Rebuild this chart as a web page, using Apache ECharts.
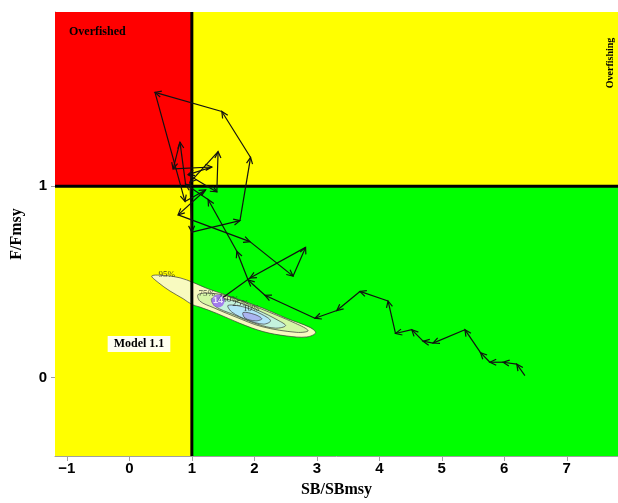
<!DOCTYPE html>
<html>
<head>
<meta charset="utf-8">
<script src="https://cdn.jsdelivr.net/npm/echarts@6/dist/echarts.min.js"></script>
<style>
  html, body { margin: 0; padding: 0; background: #fff; }
  #main { width: 618px; height: 503px; }
</style>
</head>
<body>
<div id="main"></div>
<script>
// axis ticks
const xTicks = [-1, 0, 1, 2, 3, 4, 5, 6, 7];
const yTicks = [0, 1];

// stock trajectory (SB/SBmsy, F/Fmsy) in time order
const trajSB = [6.33, 6.20, 5.98, 5.77, 5.62, 5.37, 4.86, 4.70, 4.52, 4.26, 4.14, 3.69, 3.32, 2.97, 2.17, 1.90, 1.72, 1.26, 0.90, 0.81,
  0.70, 1.32, 0.94, 1.40, 1.42, 0.97, 1.00, 1.77, 1.94, 1.48, 0.41, 0.89, 1.22, 0.78, 1.93, 2.62, 2.82, 1.93, 1.42];
const trajF = [0.01, 0.07, 0.08, 0.08, 0.13, 0.25, 0.18, 0.19, 0.25, 0.23, 0.40, 0.45, 0.35, 0.31, 0.43, 0.51, 0.66, 0.93, 1.01, 1.23,
  1.09, 1.10, 1.06, 0.97, 1.18, 1.02, 0.76, 0.82, 1.15, 1.39, 1.49, 0.92, 0.98, 0.85, 0.71, 0.53, 0.68, 0.52, 0.40];

// final year point
const finalPoint = [1.42, 0.40];
const finalLabel = "14";

// uncertainty contours around the final year
const contour95 = [[0.36, 0.531], [0.57, 0.533], [0.81, 0.521], [1.02, 0.497], [1.24, 0.466], [1.61, 0.424], [2.14, 0.362], [2.52, 0.309],
  [2.89, 0.262], [2.98, 0.234], [2.84, 0.212], [2.52, 0.217], [2.14, 0.240], [1.77, 0.283], [1.40, 0.335], [1.13, 0.368],
  [1.00, 0.382], [0.86, 0.412], [0.65, 0.452], [0.46, 0.497]];
const contour75 = [[1.10, 0.434], [1.32, 0.440], [1.58, 0.424], [2.09, 0.361], [2.66, 0.283], [2.86, 0.245], [2.68, 0.236],
  [2.12, 0.266], [1.69, 0.318], [1.34, 0.366], [1.13, 0.399]];
const contour50 = [[1.32, 0.413], [1.64, 0.403], [2.06, 0.351], [2.38, 0.299], [2.50, 0.271], [2.34, 0.258], [2.06, 0.278],
  [1.66, 0.330], [1.37, 0.373]];
const contour25 = [[1.58, 0.377], [1.85, 0.367], [2.12, 0.330], [2.26, 0.297], [2.15, 0.279], [1.90, 0.300], [1.64, 0.342]];
const contour10 = [[1.82, 0.340], [2.01, 0.329], [2.12, 0.307], [2.02, 0.296], [1.85, 0.311]];
const contourNames = ["95%", "75%", "50%", "25%", "10%"];
const contourLabelSB = [0.60, 1.24, 1.62, 1.78, 1.95];
const contourLabelF = [0.537, 0.44, 0.405, 0.385, 0.36];

const xMin = -1.19, xMax = 7.82, yMin = -0.41, yMax = 1.91;

const contours = [contour95, contour75, contour50, contour25, contour10];
const contourColors = ["#f8fac0", "#d6f6a6", "#c4f2dc", "#b4e4fa", "#aab4f0"];

const segments = [];
for (let i = 1; i < trajSB.length; i++) {
  segments.push([trajSB[i - 1], trajF[i - 1], trajSB[i], trajF[i]]);
}

const serif = "'Liberation Serif', 'Times New Roman', serif";
const narrow = "'Liberation Sans Narrow', 'Arial Narrow', 'Liberation Sans', sans-serif";

const myChart = echarts.init(document.getElementById("main"));

const option = {
  animation: false,
  grid: { left: 55, right: 0, top: 12, bottom: 45 },
  xAxis: {
    type: "value",
    min: xMin,
    max: xMax,
    name: "SB/SBmsy",
    nameLocation: "middle",
    nameGap: 26,
    nameTextStyle: { fontFamily: serif, fontWeight: "bold", fontSize: 16, color: "#000" },
    axisLine: { onZero: false, lineStyle: { color: "#a0a0a0" } },
    axisTick: { customValues: xTicks, length: 5, lineStyle: { color: "#a0a0a0" } },
    axisLabel: {
      customValues: xTicks, margin: 5, fontFamily: narrow, fontWeight: "bold", fontSize: 15, color: "#000",
      formatter: (v) => String(v).replace("-", "\u2212"),
    },
    splitLine: { show: false },
  },
  yAxis: {
    type: "value",
    min: yMin,
    max: yMax,
    name: "F/Fmsy",
    nameLocation: "middle",
    nameGap: 30,
    nameTextStyle: { fontFamily: serif, fontWeight: "bold", fontSize: 16, color: "#000" },
    axisLine: { onZero: false, lineStyle: { color: "#a0a0a0" } },
    axisTick: { customValues: yTicks, length: 4, lineStyle: { color: "#a0a0a0" } },
    axisLabel: { customValues: yTicks, margin: 8, fontFamily: narrow, fontWeight: "bold", fontSize: 15, color: "#000" },
    splitLine: { show: false },
  },
  graphic: [
    { type: "text", left: 69, top: 26, z: 50,
      style: { text: "Overfished", font: "bold 12px " + serif, fill: "#000" } },
    { type: "text", x: 610, y: 63, rotation: Math.PI / 2, z: 50,
      style: { text: "Overfishing", font: "bold 10px " + serif, fill: "#000", align: "center", verticalAlign: "middle" } },
    { type: "text", x: 139, y: 344, z: 50,
      style: { text: "Model 1.1", font: "bold 12px " + serif, fill: "#000", align: "center", verticalAlign: "middle",
        backgroundColor: "#fffff0", padding: [2, 6] } },
  ],
  series: [
    {
      // Kobe quadrants
      type: "custom",
      z: 1,
      silent: true,
      data: [
        [xMin, 1, 1, yMax, 0],
        [1, 1, xMax, yMax, 1],
        [xMin, yMin, 1, 1, 1],
        [1, yMin, xMax, 1, 2],
      ],
      encode: { x: [0, 2], y: [1, 3] },
      renderItem: function (params, api) {
        const cols = ["#ff0000", "#ffff00", "#00ff00"];
        const p1 = api.coord([api.value(0), api.value(3)]);
        const p2 = api.coord([api.value(2), api.value(1)]);
        return {
          type: "rect",
          shape: { x: p1[0], y: p1[1], width: p2[0] - p1[0], height: p2[1] - p1[1] },
          style: { fill: cols[api.value(4)] },
        };
      },
    },
    {
      // density contours
      type: "custom",
      z: 2,
      silent: true,
      data: contours.map((c) => c[0]),
      renderItem: function (params, api) {
        const pts = contours[params.dataIndex].map((p) => api.coord(p));
        return {
          type: "polygon",
          shape: { points: pts, smooth: 0.35 },
          style: { fill: contourColors[params.dataIndex], stroke: "#3a3a3a", lineWidth: 0.7 },
        };
      },
    },
    {
      type: "scatter",
      z: 3,
      silent: true,
      symbolSize: 0,
      data: contourNames.map((n, i) => ({ name: n, value: [contourLabelSB[i], contourLabelF[i]] })),
      label: { show: true, position: "inside", formatter: "{b}", fontFamily: serif, fontSize: 9, color: "#222" },
    },
    {
      // reference lines at 1
      type: "custom",
      z: 4,
      silent: true,
      data: [
        [1, yMin, 1, yMax],
        [xMin, 1, xMax, 1],
      ],
      encode: { x: [0, 2], y: [1, 3] },
      renderItem: function (params, api) {
        const p1 = api.coord([api.value(0), api.value(1)]);
        const p2 = api.coord([api.value(2), api.value(3)]);
        return {
          type: "line",
          shape: { x1: p1[0], y1: p1[1], x2: p2[0], y2: p2[1] },
          style: { stroke: "#000", lineWidth: 3 },
        };
      },
    },
    {
      // trajectory with arrowheads
      type: "custom",
      z: 5,
      silent: true,
      data: segments,
      encode: { x: [0, 2], y: [1, 3] },
      renderItem: function (params, api) {
        const p1 = api.coord([api.value(0), api.value(1)]);
        const p2 = api.coord([api.value(2), api.value(3)]);
        const ang = Math.atan2(p2[1] - p1[1], p2[0] - p1[0]);
        const len = 7, spread = Math.PI / 7;
        const a1 = [p2[0] - len * Math.cos(ang - spread), p2[1] - len * Math.sin(ang - spread)];
        const a2 = [p2[0] - len * Math.cos(ang + spread), p2[1] - len * Math.sin(ang + spread)];
        return {
          type: "group",
          children: [
            { type: "line", shape: { x1: p1[0], y1: p1[1], x2: p2[0], y2: p2[1] }, style: { stroke: "#111", lineWidth: 1.2 } },
            { type: "polyline", shape: { points: [a1, p2, a2] }, style: { stroke: "#111", lineWidth: 1.2, fill: null } },
          ],
        };
      },
    },
    {
      type: "scatter",
      z: 6,
      silent: true,
      symbolSize: 13,
      itemStyle: { color: "#9a60f0" },
      data: [finalPoint],
      label: { show: true, position: "inside", formatter: finalLabel, fontSize: 9, color: "#fff", fontWeight: "bold" },
    },
  ],
};

myChart.setOption(option);
</script>
</body>
</html>
